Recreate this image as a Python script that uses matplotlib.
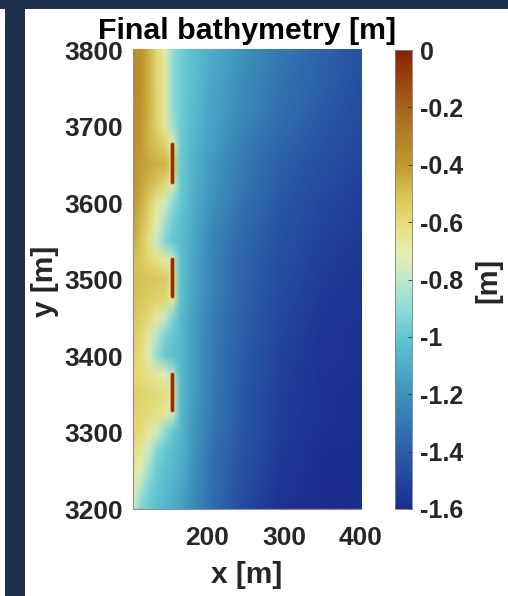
import matplotlib
matplotlib.use("Agg")
import matplotlib.pyplot as plt
import numpy as np
from matplotlib.cm import ScalarMappable
from matplotlib.colors import LinearSegmentedColormap, Normalize
from matplotlib.image import NonUniformImage
from matplotlib.patches import Rectangle

plt.rcParams['font.family'] = ['Liberation Sans', 'DejaVu Sans']
plt.rcParams['font.weight'] = 'bold'

# bathymetry, one row per y
x_m = [103, 112, 123, 133, 144, 154, 165, 180, 205, 245, 295, 350, 400]
y_m = [3800, 3775, 3750, 3725, 3700, 3675, 3650, 3625, 3600, 3575, 3550, 3525, 3500,
       3475, 3450, 3425, 3400, 3375, 3350, 3325, 3300, 3275, 3250, 3225, 3200]
depth = [
    [-.36, -.37, -.46, -.58, -.68, -.90, -.97, -1.02, -1.10, -1.20, -1.30, -1.38, -1.45],
    [-.35, -.37, -.46, -.58, -.68, -.90, -.97, -1.03, -1.11, -1.21, -1.31, -1.39, -1.45],
    [-.35, -.37, -.46, -.58, -.68, -.90, -.97, -1.03, -1.12, -1.22, -1.32, -1.40, -1.46],
    [-.35, -.38, -.46, -.57, -.68, -.89, -.97, -1.04, -1.13, -1.23, -1.33, -1.41, -1.47],
    [-.36, -.39, -.47, -.56, -.66, -.86, -.97, -1.05, -1.14, -1.25, -1.35, -1.43, -1.48],
    [-.37, -.40, -.47, -.51, -.56, -.70, -.97, -1.06, -1.15, -1.27, -1.37, -1.44, -1.49],
    [-.38, -.41, -.44, -.46, -.47, -.55, -.98, -1.07, -1.17, -1.29, -1.39, -1.46, -1.50],
    [-.38, -.42, -.47, -.52, -.58, -.72, -.98, -1.08, -1.18, -1.30, -1.41, -1.47, -1.51],
    [-.40, -.45, -.54, -.64, -.76, -.90, -1.00, -1.09, -1.20, -1.32, -1.42, -1.49, -1.52],
    [-.42, -.48, -.58, -.70, -.86, -.96, -1.02, -1.10, -1.22, -1.34, -1.44, -1.50, -1.53],
    [-.45, -.51, -.62, -.78, -.92, -.99, -1.03, -1.11, -1.24, -1.36, -1.45, -1.51, -1.54],
    [-.50, -.53, -.58, -.62, -.67, -.80, -1.02, -1.12, -1.25, -1.37, -1.46, -1.52, -1.55],
    [-.50, -.51, -.52, -.53, -.54, -.62, -1.02, -1.12, -1.25, -1.37, -1.47, -1.53, -1.56],
    [-.50, -.52, -.54, -.56, -.58, -.68, -1.03, -1.13, -1.26, -1.38, -1.48, -1.54, -1.57],
    [-.53, -.55, -.59, -.66, -.78, -.93, -1.04, -1.14, -1.27, -1.39, -1.49, -1.55, -1.57],
    [-.55, -.58, -.66, -.82, -.94, -1.00, -1.05, -1.15, -1.28, -1.40, -1.50, -1.56, -1.58],
    [-.57, -.60, -.73, -.88, -.98, -1.02, -1.06, -1.15, -1.28, -1.41, -1.51, -1.56, -1.58],
    [-.58, -.60, -.63, -.67, -.72, -.84, -1.05, -1.15, -1.28, -1.41, -1.51, -1.57, -1.58],
    [-.56, -.57, -.58, -.59, -.60, -.67, -1.05, -1.15, -1.29, -1.42, -1.52, -1.57, -1.59],
    [-.57, -.58, -.60, -.62, -.66, -.76, -1.05, -1.16, -1.29, -1.42, -1.52, -1.57, -1.59],
    [-.58, -.60, -.66, -.76, -.90, -.99, -1.06, -1.17, -1.30, -1.43, -1.53, -1.58, -1.59],
    [-.62, -.66, -.78, -.92, -.99, -1.03, -1.08, -1.18, -1.32, -1.44, -1.54, -1.59, -1.60],
    [-.65, -.72, -.88, -.97, -1.02, -1.06, -1.10, -1.19, -1.33, -1.45, -1.55, -1.60, -1.60],
    [-.70, -.84, -.95, -1.00, -1.04, -1.08, -1.12, -1.21, -1.33, -1.46, -1.56, -1.60, -1.60],
    [-.78, -.92, -.98, -1.02, -1.06, -1.10, -1.14, -1.22, -1.34, -1.47, -1.57, -1.60, -1.60],
]

# breakwaters: x, y start, y end
bw_x = [154, 154, 154]
bw_y0 = [3628, 3479, 3329]
bw_y1 = [3677, 3527, 3377]

x_ticks = [200, 300, 400]
y_ticks = [3200, 3300, 3400, 3500, 3600, 3700, 3800]
cb_ticks = [0, -0.2, -0.4, -0.6, -0.8, -1, -1.2, -1.4, -1.6]
cb_labels = ['0', '-0.2', '-0.4', '-0.6', '-0.8', '-1', '-1.2', '-1.4', '-1.6']

cmap_pos = [0, .125, .25, .375, .4375, .5, .56, .625, .69, .75, .875, 1]
cmap_col = ['#1b2c8f', '#2c5ea9', '#3d93bd', '#62c6d2', '#8fdcd6', '#c0e8cc', '#e8eeb0', '#e5dd7c',
            '#d6c050', '#bf9a30', '#a6641f', '#8a2204']
topo = LinearSegmentedColormap.from_list('topo', list(zip(cmap_pos, cmap_col)))
norm = Normalize(vmin=-1.6, vmax=0)

W, H = 508, 596
fig = plt.figure(figsize=(W / 100, H / 100), dpi=100, facecolor='white')

def box(x0, y0, x1, y1):
    return [x0 / W, 1 - y1 / H, (x1 - x0) / W, (y1 - y0) / H]

# dark slide background behind the white panel
navy = '#1d2f4a'
fig.patches.append(Rectangle((0, 1 - 9 / H), 1, 9 / H, transform=fig.transFigure, color=navy, lw=0))
fig.patches.append(Rectangle((5 / W, 0), 19.5 / W, 1, transform=fig.transFigure, color=navy, lw=0))

ax = fig.add_axes(box(133, 50, 361, 509))
img = NonUniformImage(ax, interpolation='bilinear', cmap=topo, norm=norm)
img.set_data(x_m, y_m[::-1], np.array(depth)[::-1])
ax.add_image(img)
for x, y0, y1 in zip(bw_x, bw_y0, bw_y1):
    ax.plot([x, x], [y0, y1], color='#f2e6b8', lw=4.4, solid_capstyle='round', alpha=0.45)
    ax.plot([x, x], [y0, y1], color='#d98a3a', lw=3.4, solid_capstyle='round', alpha=0.8)
    ax.plot([x, x], [y0, y1], color='#8f3208', lw=2.3, solid_capstyle='round')
ax.set_xlim(103, 400)
ax.set_ylim(3200, 3800)
ax.set_xticks(x_ticks)
ax.set_yticks(y_ticks)
ax.tick_params(axis='x', length=0, labelsize=19, labelcolor='#262626', pad=12)
ax.tick_params(axis='y', length=0, labelsize=19, labelcolor='#262626', pad=7)
for s in ['top', 'right']:
    ax.spines[s].set_visible(False)
for s in ['left', 'bottom']:
    ax.spines[s].set_color('#909090')
    ax.spines[s].set_linewidth(0.8)

cax = fig.add_axes(box(394.5, 50, 411.5, 509))
cb = fig.colorbar(ScalarMappable(norm=norm, cmap=topo), cax=cax)
cb.set_ticks(cb_ticks)
cb.set_ticklabels(cb_labels)
cax.tick_params(direction='in', length=3, width=0.7, color='#404040', labelsize=18, labelcolor='#262626', pad=6)
cb.outline.set_edgecolor('#808080')
cb.outline.set_linewidth(0.6)

fig.text(247.5 / W, 1 - 31 / H, 'Final bathymetry [m]', ha='center', va='center', fontsize=21.9, color='black')
fig.text(247 / W, 1 - 575 / H, 'x [m]', ha='center', va='center', fontsize=21.5, color='#262626')
fig.text(45 / W, 1 - 281 / H, 'y [m]', ha='center', va='center', rotation=90, fontsize=21.5, color='#262626')
fig.text(488 / W, 1 - 280 / H, '[m]', ha='center', va='center', rotation=90, fontsize=21, color='#262626')

fig.savefig('out.png', dpi=100)
